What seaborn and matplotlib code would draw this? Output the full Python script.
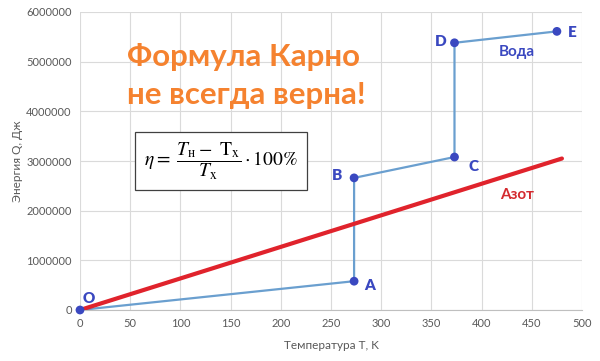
import matplotlib
matplotlib.use("Agg")
import matplotlib.pyplot as plt
import seaborn as sns
import pandas as pd

# Data
water_labels = ["O", "A", "B", "C", "D", "E"]
water_T = [0, 273, 273, 373, 373, 475]
water_Q = [0, 580000, 2660000, 3080000, 5380000, 5610000]
nitrogen_T = [0, 480]
nitrogen_Q = [0, 3050000]

x_ticks = [0, 50, 100, 150, 200, 250, 300, 350, 400, 450, 500]
y_ticks = [0, 1000000, 2000000, 3000000, 4000000, 5000000, 6000000]

sns.set_theme(style="white")
plt.rcParams['font.family'] = ['Lato', 'DejaVu Sans']
plt.rcParams['mathtext.fontset'] = 'stix'

fig = plt.figure(figsize=(6, 3.61), dpi=100)
ax = fig.add_axes([80/600, 1-310/361, 502/600, 298/361])

water = pd.DataFrame({"T": water_T, "Q": water_Q, "label": water_labels})
nitro = pd.DataFrame({"T": nitrogen_T, "Q": nitrogen_Q})

sns.lineplot(data=water, x="T", y="Q", sort=False, estimator=None, color="#6A9FCF",
             linewidth=1.6, ax=ax, zorder=3)
sns.lineplot(data=nitro, x="T", y="Q", sort=False, estimator=None, color="#E0232C",
             linewidth=3.0, ax=ax, zorder=4)
sns.scatterplot(data=water, x="T", y="Q", color="#3A48C0", s=40, edgecolor="none",
                ax=ax, zorder=5, clip_on=False)

ax.set_xlim(0, 500)
ax.set_ylim(0, 6000000)
ax.set_xticks(x_ticks)
ax.set_yticks(y_ticks)
ax.set_xticklabels([str(v) for v in x_ticks])
ax.set_yticklabels([str(v) for v in y_ticks])
ax.tick_params(axis='both', length=0, labelsize=8, labelcolor="#595959", pad=6)
ax.grid(True, color="#DADADA", linewidth=0.8)
for s in ["top", "right", "left"]:
    ax.spines[s].set_visible(False)
ax.spines["bottom"].set_color("#BFBFBF")
ax.spines["bottom"].set_linewidth(0.8)

ax.set_xlabel("Температура T, K", fontsize=8.5, color="#595959", labelpad=8)
ax.set_ylabel("Энергия Q, Дж", fontsize=8.5, color="#595959", labelpad=2)

lab_color = "#3A48C0"
offsets = {"O": (2, 8), "A": (7, -3), "B": (-16, 2), "C": (10, -7), "D": (-14, 1), "E": (8, -1)}
for lbl, t, q in zip(water_labels, water_T, water_Q):
    dx, dy = offsets[lbl]
    ax.annotate(lbl, (t, q), xytext=(dx, dy), textcoords="offset points",
                fontsize=11, fontweight="heavy", color=lab_color, va="center", ha="left")

ax.text(0.87, 0.865, "Вода", transform=ax.transAxes, fontsize=11, fontweight="bold",
        color=lab_color, ha="center", va="center")
ax.text(0.87, 0.385, "Азот", transform=ax.transAxes, fontsize=11, fontweight="bold",
        color="#D42A2F", ha="center", va="center")

fig.text(127/600, 1-57/361, "Формула Карно", fontsize=22.5, fontweight="bold",
         color="#F5822F", ha="left", va="center")
fig.text(127/600, 1-95/361, "не всегда верна!", fontsize=22.5, fontweight="bold",
         color="#F5822F", ha="left", va="center")

fig.text(221/600, 1-161/361,
         r"$\eta =\ \dfrac{T_{\mathrm{н}} -\ \mathrm{T}_{\mathrm{х}}}{T_{\mathrm{х}}}\cdot 100\%$",
         fontsize=14, color="black", ha="center", va="center",
         bbox=dict(boxstyle="square,pad=0.45", facecolor="white", edgecolor="#404040", linewidth=0.9))

fig.savefig("out.png", dpi=100)
